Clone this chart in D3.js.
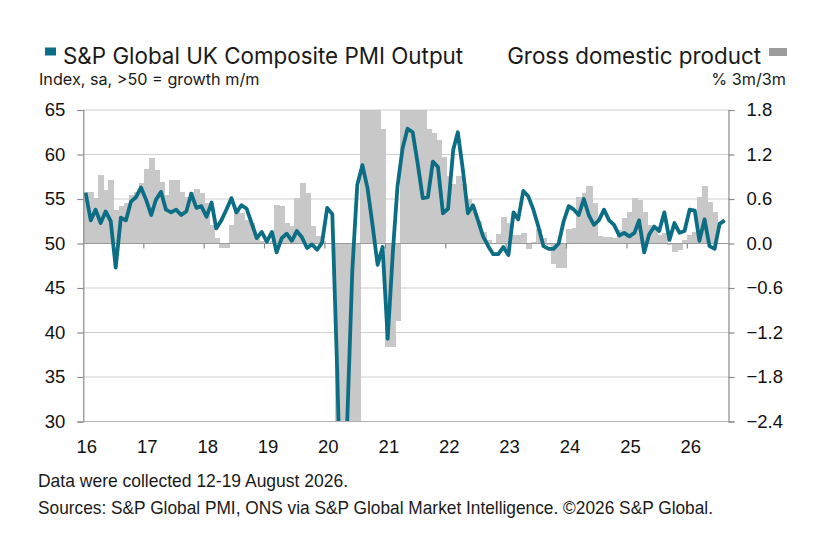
<!DOCTYPE html>
<html lang="en">
<head>
<meta charset="UTF-8" />
<title>UK Composite PMI Output and GDP</title>
<style>
  body { margin: 0; background: #fff; }
  svg { display: block; }
  .tick-label { font-family: "Liberation Sans", Arial, sans-serif; font-size: 18.5px; fill: #111; }
  .legend { font-family: Inter, "Liberation Sans", sans-serif; font-size: 22.4px; fill: #1a1a1a; }
  .unit { font-family: Inter, "Liberation Sans", sans-serif; font-size: 16.2px; fill: #1a1a1a; }
  .foot { font-family: "Liberation Sans", sans-serif; font-size: 18.5px; fill: #1a1a1a; }
</style>
</head>
<body>
<script src="https://cdn.jsdelivr.net/npm/d3@7"></script>
<script>
// monthly values, Jan 2016 .. Aug 2026
var pmi = [
  55.7, 52.6, 53.8, 52.3, 53.6, 52.5, 47.3, 52.9, 52.6, 54.7, 55.2, 56.3,   // 2016
  54.9, 53.2, 54.9, 55.8, 53.8, 53.5, 53.8, 53.2, 53.6, 55.6, 54.0, 54.2,   // 2017
  53.0, 54.6, 51.7, 52.6, 53.8, 55.1, 53.5, 54.3, 53.9, 52.3, 50.6, 51.3,   // 2018
  50.2, 51.3, 49.0, 50.6, 51.1, 50.3, 51.4, 50.7, 49.5, 49.9, 49.3, 50.1,   // 2019
  54.0, 53.3, 36.0, 13.8, 30.0, 47.0, 56.6, 58.8, 56.2, 52.1, 47.6, 49.6,   // 2020
  39.3, 49.0, 56.4, 60.7, 62.9, 62.5, 59.0, 55.1, 55.2, 59.2, 58.6, 53.4,   // 2021
  53.9, 60.5, 62.5, 58.2, 53.4, 54.3, 52.6, 50.8, 49.7, 48.8, 48.8, 49.6,   // 2022
  48.7, 53.5, 52.7, 55.9, 55.3, 53.8, 51.9, 49.7, 49.4, 49.4, 50.0, 52.5,   // 2023
  54.2, 53.8, 53.2, 55.0, 53.2, 52.1, 52.6, 53.8, 52.6, 52.1, 50.9, 51.2,   // 2024
  50.8, 51.2, 52.6, 49.0, 51.0, 51.9, 51.4, 53.5, 50.4, 52.3, 51.2, 51.4,   // 2025
  53.8, 53.7, 50.3, 52.7, 49.7, 49.4, 52.2, 52.6                            // 2026
];

// GDP % 3m/3m, Jan 2016 .. Jun 2026 (2020-21 extremes run off the scale)
var gdp = [
  0.70, 0.70, 0.61, 0.93, 0.72, 0.85, 0.45, 0.50, 0.54, 0.65, 0.70, 0.81,
  1.00, 1.15, 0.99, 0.83, 0.65, 0.86, 0.85, 0.70, 0.63, 0.70, 0.73, 0.68,
  0.55, 0.25, 0.07, -0.06, -0.06, 0.25, 0.45, 0.41, 0.32, 0.28, 0.12, 0.03,
  0.02, 0.03, 0.52, 0.50, 0.28, 0.24, 0.62, 0.82, 0.68, 0.23, 0.10, 0.04,
  0.01, 0.00, -2.6, -10.0, -19.5, -20.0, -8.0, 8.0, 15.0, 15.0, 9.0, 1.54,
  -1.39, -1.39, -1.05, 3.8, 4.8, 4.8, 3.6, 2.9, 1.55, 1.49, 1.39, 1.17,
  0.91, 0.80, 0.91, 0.80, 0.60, 0.45, 0.30, 0.15, 0.05, 0.00, 0.13, 0.36,
  0.27, 0.12, 0.12, 0.14, -0.08, 0.02, 0.19, 0.08, -0.02, -0.27, -0.33, -0.33,
  0.20, 0.21, 0.63, 0.68, 0.78, 0.54, 0.10, 0.09, 0.09, 0.07, 0.18, 0.34,
  0.42, 0.61, 0.58, 0.43, 0.25, 0.24, 0.12, 0.14, -0.02, -0.11, -0.09, 0.05,
  0.12, 0.16, 0.63, 0.77, 0.56, 0.42
];

var yearLabels = ["16", "17", "18", "19", "20", "21", "22", "23", "24", "25", "26"];
var leftTicks = [30, 35, 40, 45, 50, 55, 60, 65];
var rightTicks = [-2.4, -1.8, -1.2, -0.6, 0.0, 0.6, 1.2, 1.8];

var months = d3.timeMonth.range(new Date(2016, 0, 1), new Date(2026, 8, 1));
var years = yearLabels.map(function(d) { return new Date(2000 + (+d), 0, 1); });

var W = 819, H = 540;
var plot = { left: 83.3, right: 728.5, top: 110, bottom: 421.5 };

var x = d3.scaleTime()
  .domain([new Date(2016, 0, 1), new Date(2026, 8, 7)])
  .range([plot.left, plot.right]);
var yL = d3.scaleLinear().domain([30, 65]).range([plot.bottom, plot.top]);
var yR = d3.scaleLinear().domain([-2.4, 1.8]).range([plot.bottom, plot.top]);

var svg = d3.select("body").append("svg").attr("width", W).attr("height", H);

svg.append("clipPath").attr("id", "plotclip")
  .append("rect")
  .attr("x", plot.left).attr("y", plot.top)
  .attr("width", plot.right - plot.left).attr("height", plot.bottom - plot.top);

// gridlines
svg.append("g").selectAll("line")
  .data(leftTicks)
  .enter().append("line")
  .attr("x1", plot.left).attr("x2", plot.right)
  .attr("y1", function(d) { return yL(d); })
  .attr("y2", function(d) { return yL(d); })
  .attr("stroke", function(d) { return d === 50 ? "#a0a0a0" : "#cfcfcf"; })
  .attr("stroke-width", 1.2);

// GDP bars, drawn edge to edge
var bars = svg.append("g").attr("clip-path", "url(#plotclip)").attr("shape-rendering", "crispEdges");
bars.selectAll("rect")
  .data(gdp)
  .enter().append("rect")
  .attr("x", function(d, i) { return x(months[i]); })
  .attr("width", function(d, i) { return x(d3.timeMonth.offset(months[i], 1)) - x(months[i]) + 1; })
  .attr("y", function(d) { return yR(Math.max(0, d)); })
  .attr("height", function(d) { return Math.abs(yR(d) - yR(0)); })
  .attr("fill", "#c8c8c8");

// zero line above bars
svg.append("line")
  .attr("x1", plot.left).attr("x2", plot.right)
  .attr("y1", yL(50)).attr("y2", yL(50))
  .attr("stroke", "#9a9a9a").attr("stroke-width", 1.2);

// year ticks hang from the 50 line
svg.append("g").selectAll("line")
  .data(years.slice(1))
  .enter().append("line")
  .attr("x1", function(d) { return x(d); })
  .attr("x2", function(d) { return x(d); })
  .attr("y1", yL(50)).attr("y2", yL(50) + 5)
  .attr("stroke", "#8a8a8a").attr("stroke-width", 1.2);

// PMI line
var line = d3.line()
  .x(function(d, i) { return x(d3.timeDay.offset(months[i], 14)); })
  .y(function(d) { return yL(d); });

svg.append("g").attr("clip-path", "url(#plotclip)")
  .append("path")
  .datum(pmi)
  .attr("d", line)
  .attr("fill", "none")
  .attr("stroke", "#0b6e85")
  .attr("stroke-width", 3.8)
  .attr("stroke-linejoin", "round");

// axes
var leftAxis = d3.axisLeft(yL).tickValues(leftTicks).tickSize(6).tickPadding(12);
var gL = svg.append("g").attr("transform", "translate(" + plot.left + ",0)").call(leftAxis);
var rightAxis = d3.axisRight(yR).tickValues(rightTicks).tickSize(6).tickPadding(12)
  .tickFormat(d3.format(".1f"));
var gR = svg.append("g").attr("transform", "translate(" + plot.right + ",0)").call(rightAxis);
[gL, gR].forEach(function(g) {
  g.attr("font-size", null).attr("font-family", null);
  g.select(".domain").attr("stroke", "#8a8a8a").attr("stroke-width", 1.2);
  g.selectAll(".tick line").attr("stroke", "#8a8a8a").attr("stroke-width", 1.2);
  g.selectAll(".tick text").attr("class", "tick-label").attr("fill", null);
});

// bottom line at 30
svg.append("line")
  .attr("x1", plot.left).attr("x2", plot.right)
  .attr("y1", plot.bottom).attr("y2", plot.bottom)
  .attr("stroke", "#b0b0b0").attr("stroke-width", 1.2);

// year labels
svg.append("g").selectAll("text")
  .data(yearLabels)
  .enter().append("text")
  .attr("class", "tick-label")
  .attr("x", function(d, i) { return x(years[i]) + 3.5; })
  .attr("y", 453)
  .attr("text-anchor", "middle")
  .text(function(d) { return d; });

// legend
svg.append("rect").attr("x", 45).attr("y", 47.5).attr("width", 11).attr("height", 8).attr("fill", "#0b6e85");
svg.append("text").attr("class", "legend").attr("x", 63).attr("y", 63.5)
  .text("S&P Global UK Composite PMI Output");
svg.append("text").attr("class", "unit").attr("x", 39).attr("y", 84.5)
  .text("Index, sa, >50 = growth m/m");

svg.append("rect").attr("x", 769).attr("y", 48).attr("width", 18).attr("height", 8).attr("fill", "#9c9c9c");
svg.append("text").attr("class", "legend").attr("x", 761).attr("y", 63.5)
  .attr("text-anchor", "end").text("Gross domestic product");
svg.append("text").attr("class", "unit").attr("x", 786).attr("y", 85)
  .attr("text-anchor", "end").text("% 3m/3m");

// footnotes (the house font is condensed, so squeeze to its measured width)
svg.append("text").attr("class", "foot").attr("x", 38).attr("y", 487)
  .attr("textLength", 310).attr("lengthAdjust", "spacingAndGlyphs")
  .text("Data were collected 12-19 August 2026.");
svg.append("text").attr("class", "foot").attr("x", 38).attr("y", 514)
  .attr("textLength", 675).attr("lengthAdjust", "spacingAndGlyphs")
  .text("Sources: S&P Global PMI, ONS via S&P Global Market Intelligence. \u00a92026 S&P Global.");
</script>
</body>
</html>
